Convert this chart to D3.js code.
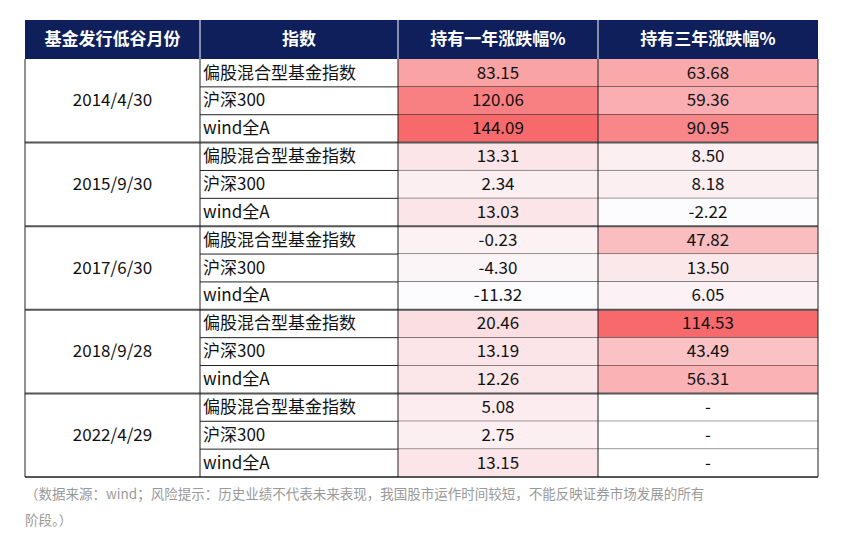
<!DOCTYPE html><html><head><meta charset="utf-8"><script src="https://cdn.jsdelivr.net/npm/d3@7"></script>
<style>body{margin:0;background:#fff}</style></head><body><svg id="c" width="844" height="542"></svg>
<script>
const headers=["基金发行低谷月份","指数","持有一年涨跌幅%","持有三年涨跌幅%"];
const dates=["2014/4/30","2015/9/30","2017/6/30","2018/9/28","2022/4/29"];
const indices=["偏股混合型基金指数","沪深300","wind全A"];
const oneYear=[83.15,120.06,144.09,13.31,2.34,13.03,-0.23,-4.30,-11.32,20.46,13.19,12.26,5.08,2.75,13.15];
const threeYear=[63.68,59.36,90.95,8.50,8.18,-2.22,47.82,13.50,6.05,114.53,43.49,56.31,null,null,null];
const note1="（数据来源：wind；风险提示：历史业绩不代表未来表现，我国股市运作时间较短，不能反映证券市场发展的所有";
const note2="阶段。）";

const svg=d3.select("#c");
const font="'Noto Sans CJK SC','Noto Sans',sans-serif";
const colX=[25,200,398,598,818];
const tableTop=20,headH=39,n=15;
const y=d3.scaleBand().domain(d3.range(n)).range([tableTop+headH,477]);
const rh=y.bandwidth();
const mk=(arr)=>{const v=arr.filter(d=>d!=null);return d3.scaleLinear().domain([d3.min(v),d3.max(v)]).range(["#fcfcff","#f8696b"]);};
const c3=mk(oneYear),c4=mk(threeYear);
svg.append("rect").attr("x",25).attr("y",tableTop).attr("width",793).attr("height",headH).attr("fill","#0e1f5b");
headers.forEach((h,i)=>svg.append("text").attr("x",(colX[i]+colX[i+1])/2).attr("y",tableTop+headH/2+1).attr("text-anchor","middle").attr("dominant-baseline","middle").attr("fill","#fff").attr("font-weight","bold").attr("font-size",17).attr("font-family",font).text(h));
d3.range(1,4).forEach(i=>svg.append("line").attr("x1",colX[i]).attr("x2",colX[i]).attr("y1",tableTop).attr("y2",tableTop+headH).attr("stroke","#fff").attr("stroke-width",1));
d3.range(n).forEach(r=>{
  const yy=y(r);
  svg.append("rect").attr("x",colX[2]).attr("y",yy).attr("width",colX[3]-colX[2]).attr("height",rh).attr("fill",c3(oneYear[r]));
  svg.append("rect").attr("x",colX[3]).attr("y",yy).attr("width",colX[4]-colX[3]).attr("height",rh).attr("fill",threeYear[r]==null?"#fff":c4(threeYear[r]));
  const t=(x,s,a)=>svg.append("text").attr("x",x).attr("y",yy+rh/2+1).attr("text-anchor",a).attr("dominant-baseline","middle").attr("font-size",17).attr("font-family",font).attr("fill","#111").text(s);
  t(colX[1]+3,indices[r%3],"start");
  t((colX[2]+colX[3])/2,oneYear[r].toFixed(2),"middle");
  t((colX[3]+colX[4])/2,threeYear[r]==null?"-":threeYear[r].toFixed(2),"middle");
  if(r%3!=2)svg.append("line").attr("x1",colX[1]).attr("x2",colX[4]).attr("y1",yy+rh).attr("y2",yy+rh).attr("stroke","#222");
});
dates.forEach((d,i)=>{
  const y0=y(i*3),y1=y(i*3)+3*rh;
  svg.append("text").attr("x",(colX[0]+colX[1])/2).attr("y",(y0+y1)/2+1).attr("text-anchor","middle").attr("dominant-baseline","middle").attr("font-size",17).attr("font-family",font).attr("fill","#111").text(d);
  svg.append("line").attr("x1",colX[0]).attr("x2",colX[4]).attr("y1",y1).attr("y2",y1).attr("stroke","#555").attr("stroke-width",2);
});
[0,1,2,3,4].forEach(i=>svg.append("line").attr("x1",colX[i]).attr("x2",colX[i]).attr("y1",tableTop+headH).attr("y2",477).attr("stroke","#222"));
svg.append("text").attr("x",25).attr("y",499).attr("font-size",13.5).attr("fill","#999").attr("font-family",font).text(note1);
svg.append("text").attr("x",25).attr("y",525).attr("font-size",13.5).attr("fill","#999").attr("font-family",font).text(note2);
</script></body></html>
